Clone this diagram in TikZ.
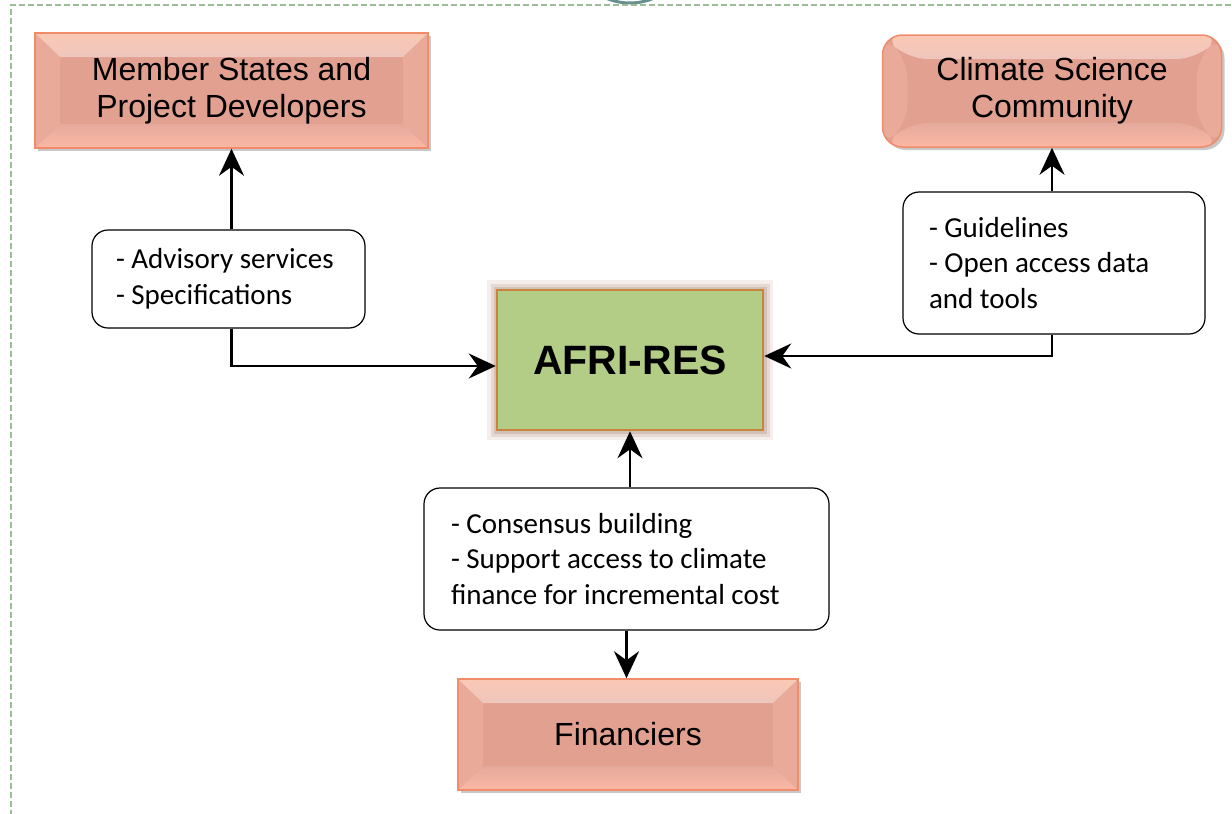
\documentclass[tikz,border=0pt]{standalone}
\usepackage{fontspec}
\setmainfont{Liberation Sans}
\newfontfamily\calibri{Carlito}
\usetikzlibrary{arrows.meta}
\usetikzlibrary{shadows}

\definecolor{salmonfill}{RGB}{226,160,145}
\definecolor{salmonedge}{RGB}{240,140,105}
\definecolor{bevtop}{RGB}{251,200,180}
\definecolor{bevmid}{RGB}{253,233,224}
\definecolor{bevbot}{RGB}{251,184,164}
\definecolor{bevside}{RGB}{234,170,154}
\definecolor{afrigreen}{RGB}{179,205,134}
\definecolor{afriedge}{RGB}{200,132,60}
\definecolor{afriglow}{RGB}{200,175,165}
\definecolor{frameline}{RGB}{156,190,150}
\definecolor{tabcircle}{RGB}{104,142,142}

% bevel faces of the salmon boxes
\newcommand{\bevelfaces}{%
  \coordinate (bnw) at (path picture bounding box.north west);
  \coordinate (bne) at (path picture bounding box.north east);
  \coordinate (bsw) at (path picture bounding box.south west);
  \coordinate (bse) at (path picture bounding box.south east);
  \fill[bevside] (bnw) -- ([shift={(25pt,-24pt)}]bnw) -- ([shift={(25pt,24pt)}]bsw) -- (bsw) -- cycle;
  \fill[bevside] (bne) -- ([shift={(-25pt,-24pt)}]bne) -- ([shift={(-25pt,24pt)}]bse) -- (bse) -- cycle;
  \fill[top color=bevtop, middle color=bevmid, bottom color=salmonfill!60!white]
    (bnw) -- (bne) -- ([shift={(-25pt,-24pt)}]bne) -- ([shift={(25pt,-24pt)}]bnw) -- cycle;
  \fill[top color=salmonfill!90!white, bottom color=bevbot]
    (bsw) -- (bse) -- ([shift={(-25pt,24pt)}]bse) -- ([shift={(25pt,24pt)}]bsw) -- cycle;
}

\begin{document}
\begin{tikzpicture}[x=1pt, y=-1pt,
    pinkbox/.style={fill=salmonfill, draw=salmonedge, line width=1.5pt, align=center,
      font=\fontsize{32}{37}\selectfont, path picture={\bevelfaces},
      drop shadow={shadow xshift=3pt, shadow yshift=-3pt, opacity=0.22, fill=black}},
    afribox/.style={fill=afrigreen, draw=afriedge, line width=2.5pt,
      preaction={draw=afriglow, line width=20pt, opacity=0.2},
      preaction={draw=afriglow, line width=13pt, opacity=0.35},
      preaction={draw=afriglow, line width=7pt, opacity=0.6},
      font=\fontsize{41}{48}\selectfont\bfseries},
    notebox/.style={fill=white, draw=black, line width=1.2pt, rounded corners=16pt,
      align=flush left, font=\calibri\fontsize{29}{35.5}\selectfont},
    link/.style={line width=2.5pt, -{Stealth[length=27pt,width=25pt,inset=9pt]}},
    frame/.style={draw=frameline, line width=2pt, dash pattern=on 6pt off 3pt}]
    \useasboundingbox (0,0) rectangle (1232,814);

    \draw[tabcircle, fill=white, line width=3pt] (630,-58) circle (61);
    \draw[frame] (1240,5) -- (11,5) -- (11,820);

    \node[pinkbox, minimum width=393pt, minimum height=115pt] (members) at (231.5,90.5) {Member States and\\Project Developers};
    \node[pinkbox, rounded corners=20pt, minimum width=339pt, minimum height=112pt] (climate) at (1052,91) {Climate Science\\Community};
    \node[afribox, minimum width=266pt, minimum height=140pt] (afri) at (630,360) {AFRI-RES};
    \node[pinkbox, minimum width=340pt, minimum height=111pt] (fin) at (628,734.5) {Financiers};

    \node[notebox, text width=225pt, inner xsep=24pt, minimum height=98pt] (advice) at (228.5,279) {- Advisory services\\- Specifications};
    \node[notebox, text width=250pt, inner xsep=26pt, minimum height=142pt] (science) at (1054,263) {- Guidelines\\- Open access data\\and tools};
    \node[notebox, text width=351pt, inner xsep=27pt, minimum height=142pt] (consensus) at (626.5,559) {- Consensus building\\- Support access to climate\\finance for incremental cost};

    \draw[link] (advice.north -| members.south) -- (members.south);
    \draw[link] (advice.south -| members.south) |- ([yshift=-6pt]afri.west);
    \draw[link] (science.north -| climate.south) -- (climate.south);
    \draw[link] (science.south -| climate.south) |- ([yshift=4pt]afri.east);
    \draw[link] (consensus.north -| afri.south) -- (afri.south);
    \draw[link] (consensus.south) -- (consensus.south |- fin.north);
\end{tikzpicture}
\end{document}
